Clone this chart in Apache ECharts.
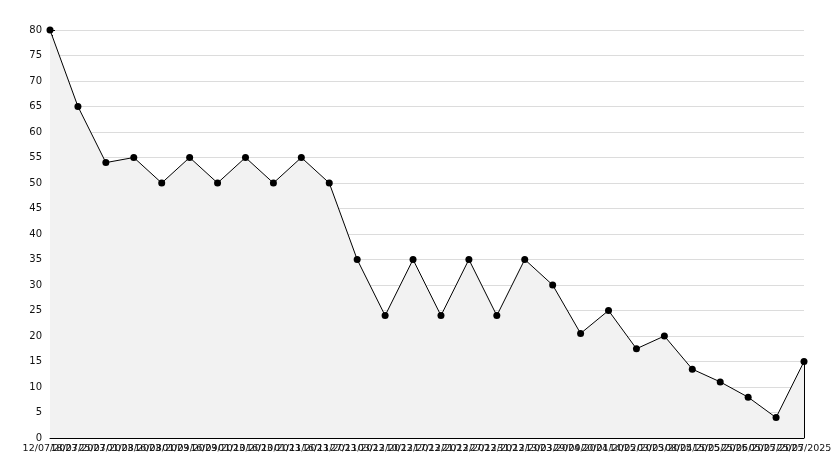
<!DOCTYPE html>
<html><head><meta charset="utf-8">
<script src="https://cdn.jsdelivr.net/npm/echarts@6/dist/echarts.min.js"></script>
<style>html,body{margin:0;padding:0;background:#fff;overflow:hidden}#c{width:834px;height:468px}</style>
</head><body><div id="c"></div>
<script>
const dates = ["12/07/2023","18/07/2023","25/07/2023","01/08/2023","16/08/2023","01/09/2023","16/09/2023","01/10/2023","16/10/2023","01/11/2023","16/11/2023","27/11/2023","03/12/2023","10/12/2023","17/12/2023","21/12/2023","27/12/2023","31/12/2023","13/03/2024","29/09/2024","20/01/2025","14/02/2025","03/03/2025","08/04/2025","15/05/2025","25/06/2025","05/07/2025","25/07/2025"];
const values = [80,65,54,55,50,55,50,55,50,55,50,35,24,35,24,35,24,35,30,20.5,25,17.5,20,13.5,11,8,4,15];
const yTicks = [0,5,10,15,20,25,30,35,40,45,50,55,60,65,70,75,80];

const chart = echarts.init(document.getElementById('c'));
const last = dates.length - 1;
chart.setOption({
  animation:false,
  grid:{left:50,right:30,top:30,bottom:30,containLabel:false,outerBoundsMode:'none'},
  xAxis:{type:'category',data:dates,boundaryGap:false,
    axisLine:{lineStyle:{color:'#000'}},
    axisTick:{show:true,inside:true,length:5,interval:0,lineStyle:{color:'#000'}},
    axisLabel:{interval:0,color:'#111',fontFamily:'DejaVu Sans',fontSize:9.5,margin:6,hideOverlap:false},
    splitLine:{show:false}},
  yAxis:{type:'value',min:yTicks[0],max:yTicks[yTicks.length-1],interval:5,
    axisLine:{show:true,lineStyle:{color:'#000'}},
    axisTick:{show:true,inside:true,length:5,lineStyle:{color:'#000'}},
    minorTick:{show:true,splitNumber:5,length:3,lineStyle:{color:'#000'}},
    axisLabel:{color:'#111',fontFamily:'DejaVu Sans',fontSize:10,margin:8},
    splitLine:{lineStyle:{color:'#dcdcdc'}}},
  series:[{type:'line',data:values,symbol:'circle',symbolSize:7,
    itemStyle:{color:'#000'},lineStyle:{color:'#000',width:1},
    areaStyle:{color:'#f2f2f2',opacity:1},
    markLine:{silent:true,symbol:'none',label:{show:false},lineStyle:{color:'#000',width:1,type:'solid'},
      data:[[{coord:[last,0]},{coord:[last,values[last]]}]]}}]
});
</script></body></html>
